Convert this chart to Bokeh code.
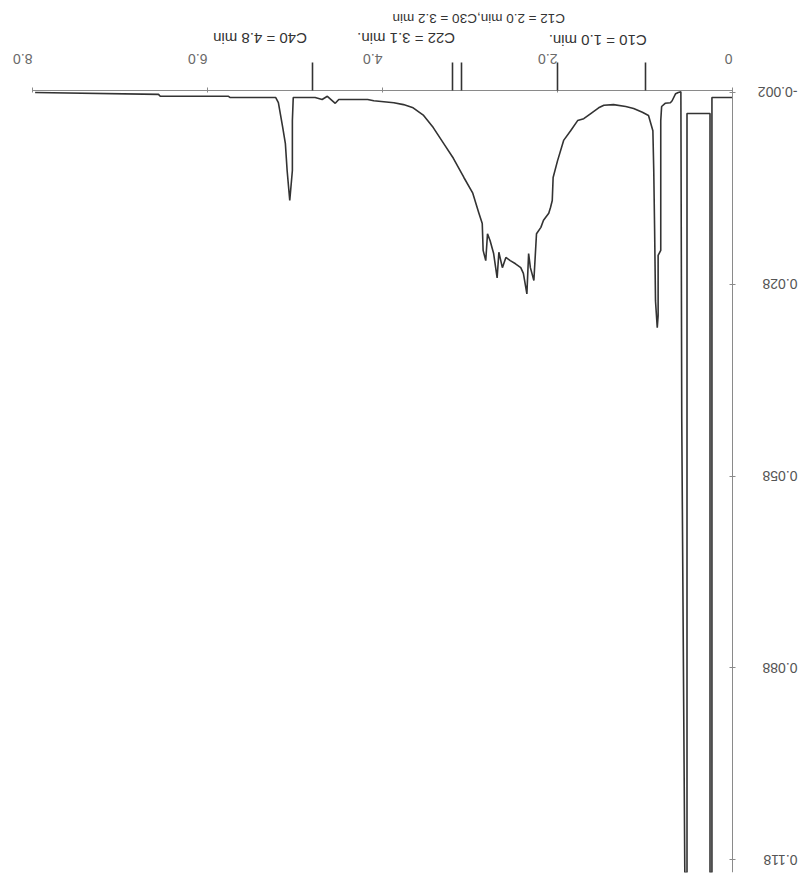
import math
from bokeh.plotting import figure
from bokeh.models import Range1d, FixedTicker
from bokeh.core.properties import value
from bokeh.embed import file_html
from bokeh.resources import INLINE

# retention time (min) and absorbance of the trace
time_min = [0.00, 0.235, 0.235, 0.257, 0.257, 0.52, 0.52, 0.545, 0.58, 0.59,
            0.62, 0.65, 0.69, 0.71, 0.77, 0.81, 0.82, 0.82, 0.85, 0.85,
            0.86, 0.88, 0.89, 0.90, 0.91, 0.96, 1.03, 1.13, 1.22, 1.36,
            1.47, 1.53, 1.62, 1.70, 1.77, 1.85, 1.93, 2.00, 2.05, 2.06,
            2.08, 2.10, 2.16, 2.19, 2.24, 2.27, 2.31, 2.33, 2.35, 2.39,
            2.42, 2.48, 2.54, 2.59, 2.63, 2.67, 2.69, 2.73, 2.77, 2.80,
            2.82, 2.85, 2.86, 2.90, 2.97, 3.07, 3.19, 3.30, 3.42, 3.53,
            3.65, 3.76, 3.87, 4.10, 4.17, 4.50, 4.54, 4.63, 4.69, 4.77,
            5.02, 5.03, 5.03, 5.06, 5.09, 5.11, 5.14, 5.19, 5.22, 5.31,
            5.74, 5.76, 6.54, 6.56, 7.97]
absorbance = [-0.0012, -0.0012, 0.1200, 0.1200, 0.0013, 0.0013, 0.1200, 0.1200, 0.0489, -0.0021,
              -0.0020, -0.0018, -0.0007, -0.0004, -0.0003, 0.0002, 0.0024, 0.0227, 0.0235, 0.0329,
              0.0348, 0.0306, 0.0196, 0.0102, 0.0040, 0.0016, 0.0011, 0.0005, 0.0002, -0.0001,
              0.0000, 0.0004, 0.0013, 0.0021, 0.0024, 0.0040, 0.0055, 0.0087, 0.0113, 0.0149,
              0.0160, 0.0169, 0.0180, 0.0191, 0.0201, 0.0274, 0.0254, 0.0232, 0.0295, 0.0263,
              0.0254, 0.0248, 0.0243, 0.0238, 0.0254, 0.0230, 0.0270, 0.0232, 0.0212, 0.0201,
              0.0243, 0.0227, 0.0185, 0.0168, 0.0137, 0.0113, 0.0083, 0.0060, 0.0035, 0.0016,
              0.0004, -0.0001, -0.0004, -0.0007, -0.0009, -0.0009, -0.0003, -0.0014, -0.0009, -0.0012,
              -0.0012, 0.0024, 0.0102, 0.0149, 0.0102, 0.0060, 0.0035, -0.0004, -0.0012, -0.0012,
              -0.0012, -0.0014, -0.0014, -0.0017, -0.0020]

# x axis ticks
x_ticks = [0, 2, 4, 6, 8]
x_tick_labels = ["0", "2.0", "4.0", "6.0", "8.0"]
# y axis ticks
y_ticks = [-0.002, 0.028, 0.058, 0.088, 0.118]
y_tick_labels = ["-0.002", "0.028", "0.058", "0.088", "0.118"]
# retention-time markers
marker_times = [1.0, 2.0, 3.1, 3.2, 4.8]
marker_texts = ["C10 = 1.0 min.", "C22 = 3.1 min.", "C40 = 4.8 min"]
marker_text_combined = ["C12 = 2.0 min,C30 = 3.2 min"]

FONT = "Liberation Sans"
Y_BASE = -0.0023   # baseline where the time axis sits
Y_MAX = 0.1200

p = figure(frame_width=803, frame_height=872,
           x_range=Range1d(8.3657, -0.8114), y_range=Range1d(Y_MAX, -0.01638),
           x_axis_location="above", y_axis_location="right",
           output_backend="svg", toolbar_location=None,
           min_border=0, min_border_bottom=9)
p.outline_line_color = None
p.grid.visible = False
p.background_fill_color = "white"

p.line(time_min, absorbance, line_color="#333333", line_width=1.6)

xa = p.xaxis[0]
xa.fixed_location = Y_BASE
xa.bounds = (0, 8)
xa.ticker = FixedTicker(ticks=x_ticks, minor_ticks=marker_times)
xa.major_label_overrides = {t: s for t, s in zip(x_ticks, x_tick_labels)}
xa.major_label_orientation = math.pi
xa.major_label_standoff = 4
xa.major_label_text_font = FONT
xa.major_label_text_font_size = "14px"
xa.major_label_text_color = "#6a6a6a"
xa.axis_line_color = "#8a8a8a"
xa.major_tick_out = 3
xa.major_tick_in = 2
xa.major_tick_line_color = "#8a8a8a"
xa.minor_tick_out = 28
xa.minor_tick_in = 0
xa.minor_tick_line_color = "#333333"
xa.minor_tick_line_width = 1.6

ya = p.yaxis[0]
ya.fixed_location = 0
ya.bounds = (Y_BASE, Y_MAX)
ya.ticker = FixedTicker(ticks=y_ticks)
ya.major_label_overrides = {t: s for t, s in zip(y_ticks, y_tick_labels)}
ya.major_label_orientation = math.pi
ya.major_label_standoff = 62
ya.major_label_text_font = FONT
ya.major_label_text_font_size = "14px"
ya.major_label_text_color = "#555555"
ya.axis_line_color = "#8a8a8a"
ya.major_tick_out = 3
ya.major_tick_in = 3
ya.major_tick_line_color = "#8a8a8a"
ya.minor_tick_line_color = None

p.text(x=[1.54, 3.73, 5.40], y=[-0.0102, -0.0104, -0.0104],
       text=marker_texts, angle=math.pi,
       text_align="center", text_baseline="middle",
       text_font=value(FONT), text_font_size="15px", text_color="#333333")
p.text(x=[2.90], y=[-0.0136],
       text=marker_text_combined, angle=math.pi,
       text_align="center", text_baseline="middle",
       text_font=value(FONT), text_font_size="13.5px", text_color="#333333")

open("out.html", "w").write(file_html(p, INLINE))
